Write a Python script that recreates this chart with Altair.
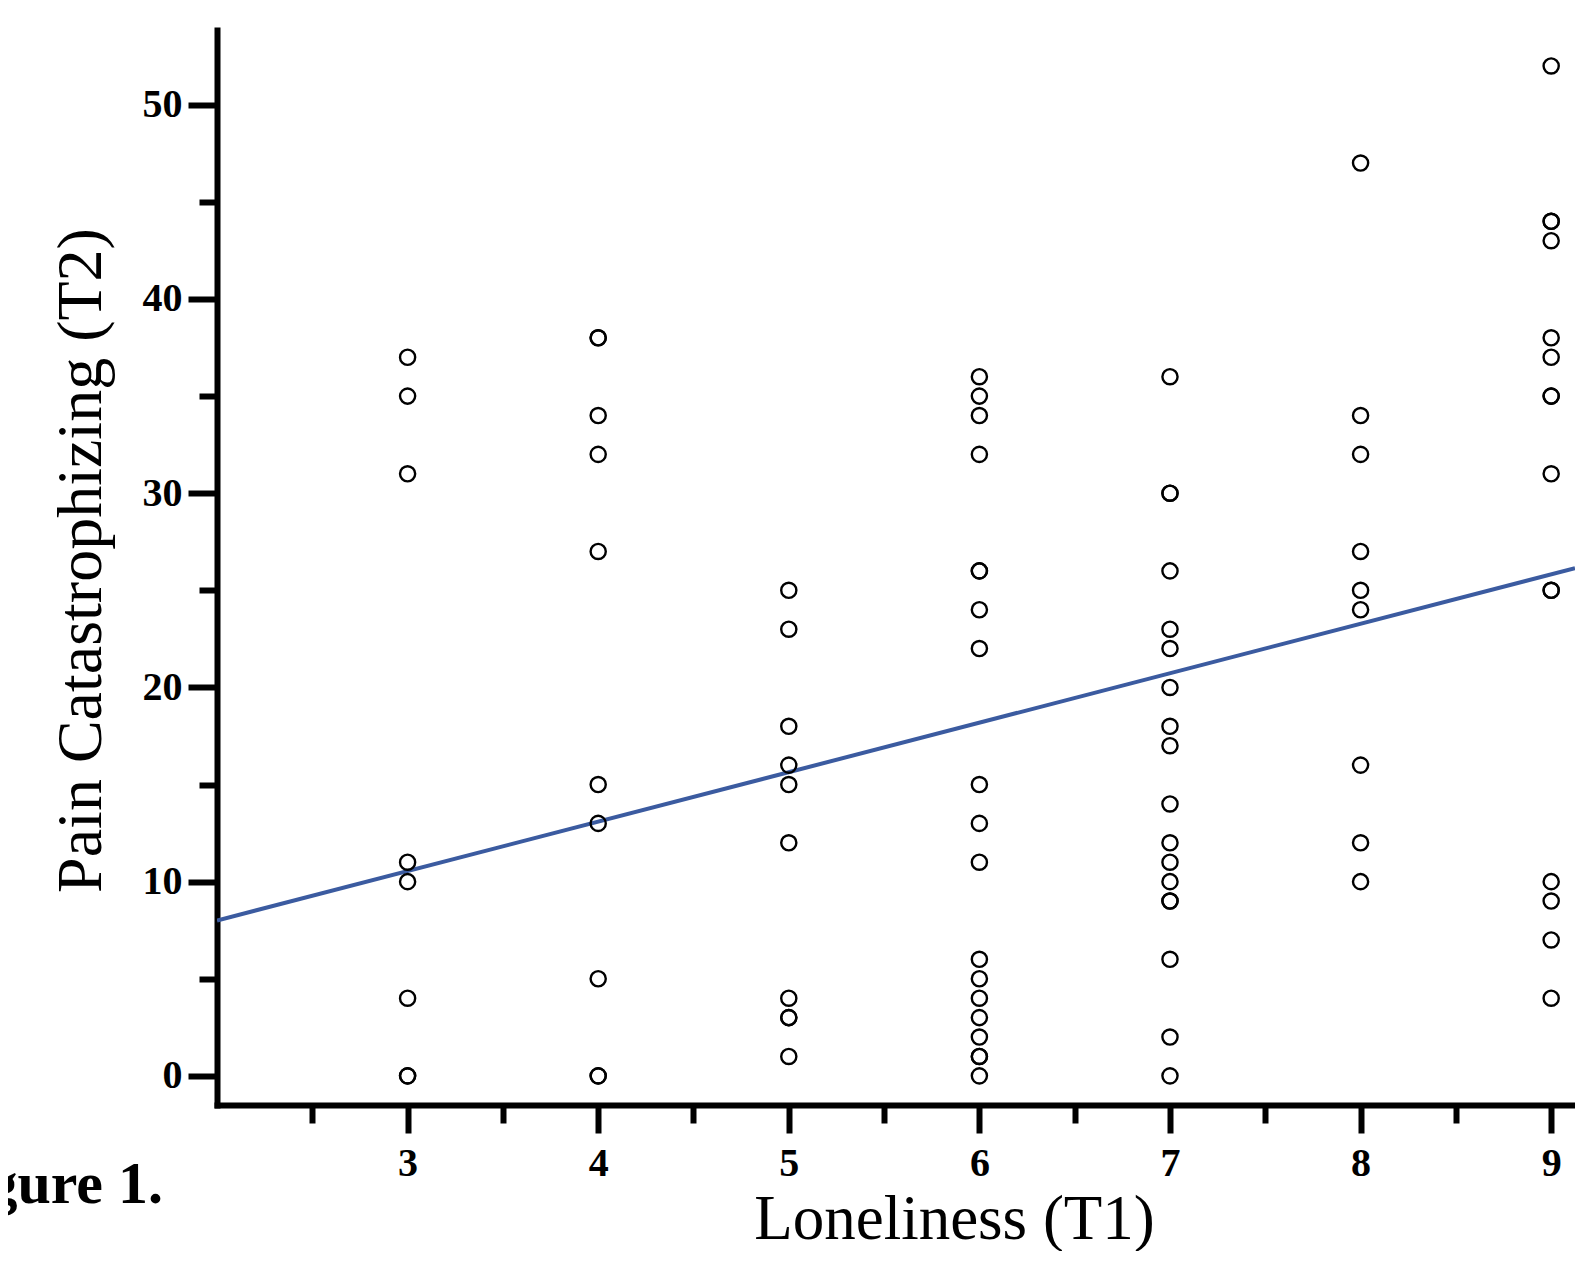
import altair as alt
import pandas as pd

# Data
col3 = [37, 35, 31, 11, 10, 4, 0, 0]
col4 = [38, 38, 34, 32, 27, 15, 13, 5, 0, 0]
col5 = [25, 23, 18, 16, 15, 12, 4, 3, 3, 1]
col6 = [36, 35, 34, 32, 26, 26, 24, 22, 15, 13, 11, 6, 5, 4, 3, 2, 1, 1, 0]
col7 = [36, 30, 30, 26, 23, 22, 20, 18, 17, 14, 12, 11, 10, 9, 9, 6, 2, 0]
col8 = [47, 34, 32, 27, 25, 24, 16, 12, 10]
col9 = [52, 44, 44, 43, 38, 37, 35, 35, 31, 25, 25, 10, 9, 7, 4]
columns = {3: col3, 4: col4, 5: col5, 6: col6, 7: col7, 8: col8, 9: col9}

# Fitted line as drawn (endpoints)
line_x = [2.0, 9.125]
line_y = [8.0, 26.14]

x_ticks = [2.5, 3, 3.5, 4, 4.5, 5, 5.5, 6, 6.5, 7, 7.5, 8, 8.5, 9]
y_ticks = [0, 5, 10, 15, 20, 25, 30, 35, 40, 45, 50]

rows = []
for xv, ys in columns.items():
    for yv in ys:
        rows.append({"loneliness": xv, "pain": yv})
pts = pd.DataFrame(rows)
line_df = pd.DataFrame({"loneliness": line_x, "pain": line_y})
caption_df = pd.DataFrame({"label": ["Figure 1."]})

FONT = "Liberation Serif"

xscale = alt.Scale(domain=[2.0, 9.125], nice=False, zero=False)
yscale = alt.Scale(domain=[-1.5, 53.85], nice=False, zero=False)

xaxis = alt.Axis(
    values=x_ticks,
    labelExpr="datum.value % 1 === 0 ? format(datum.value, 'd') : ''",
    tickSize={"condition": {"test": "datum.value % 1 === 0", "value": 28}, "value": 18},
    tickWidth=6, tickColor="black",
    domainWidth=6, domainColor="black", domainCap="square",
    labelFont=FONT, labelFontWeight="bold", labelFontSize=40, labelColor="black",
    labelPadding=10, labelAngle=0, labelOverlap=False, labelFlush=False, labelBound=False,
    grid=False,
    title="Loneliness (T1)", titleFont=FONT, titleFontSize=63, titleFontWeight="normal",
    titleColor="black", titleX=737, titleY=133, titleBaseline="alphabetic", titleAlign="center",
)
yaxis = alt.Axis(
    values=y_ticks,
    labelExpr="datum.value % 10 === 0 ? format(datum.value, 'd') : ''",
    tickSize={"condition": {"test": "datum.value % 10 === 0", "value": 29}, "value": 18},
    tickWidth=6, tickColor="black",
    domainWidth=6, domainColor="black", domainCap="square",
    labelFont=FONT, labelFontWeight="bold", labelFontSize=40, labelColor="black",
    labelPadding=6, labelOverlap=False, labelFlush=False, labelBound=False,
    grid=False,
    title="Pain Catastrophizing (T2)", titleFont=FONT, titleFontSize=64, titleFontWeight="normal",
    titleColor="black", titleX=-117, titleY=530, titleBaseline="alphabetic", titleAlign="center",
    titleAngle=270,
)

points = alt.Chart(pts).mark_point(
    shape="circle", filled=False, color="black", size=230, strokeWidth=2.4, opacity=1
).encode(
    x=alt.X("loneliness:Q", scale=xscale, axis=xaxis),
    y=alt.Y("pain:Q", scale=yscale, axis=yaxis),
)

line = alt.Chart(line_df).mark_line(color="#3b5ba0", strokeWidth=4, clip=True).encode(
    x=alt.X("loneliness:Q", scale=xscale),
    y=alt.Y("pain:Q", scale=yscale),
)

caption = alt.Chart(caption_df).mark_text(
    font=FONT, fontWeight="bold", fontSize=60, align="right", baseline="alphabetic", color="black"
).encode(
    x=alt.value(-54), y=alt.value(1173), text="label:N"
)

chart = alt.layer(line, points, caption).properties(
    width=1358, height=1075,
    autosize=alt.AutoSizeParams(type="none"),
    padding={"left": 209, "top": 22, "right": 0, "bottom": 146},
    background="white",
).configure_view(stroke=None)

chart.save("out.html", embed_options={"renderer": "svg", "actions": False})
